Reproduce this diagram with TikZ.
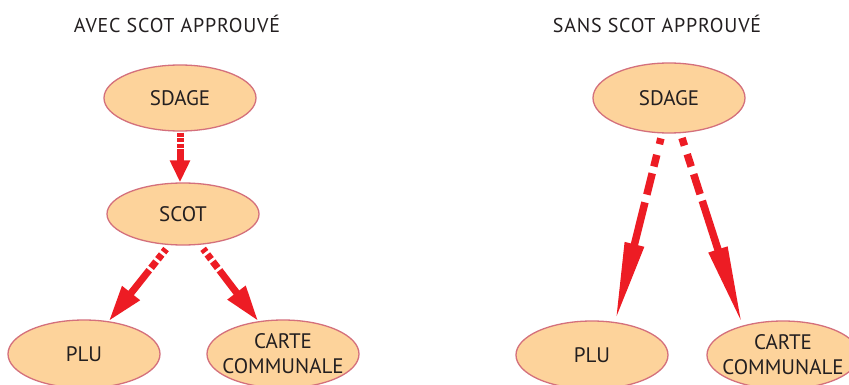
\documentclass[tikz,border=0pt]{standalone}
\usepackage{fontspec}
\setmainfont{PT Sans}
\usetikzlibrary{shapes.geometric,arrows.meta}
\definecolor{bubfill}{HTML}{FDD39B}
\definecolor{bubdraw}{HTML}{D4707C}
\definecolor{arrred}{HTML}{ED1C24}
\definecolor{txtcol}{HTML}{231F20}
\begin{document}
\begin{tikzpicture}[x=1pt,y=-1pt,
  bubble/.style={ellipse, draw=bubdraw, line width=1.3pt, fill=bubfill,
    minimum width=152pt, minimum height=68pt, inner sep=0pt},
  lbl/.style={text=txtcol, font=\fontsize{21}{25}\selectfont, align=center, inner sep=0pt},
  title/.style={text=txtcol, font=\fontsize{20}{22}\selectfont\addfontfeature{LetterSpace=4}, inner sep=0pt},
  arr/.style={draw=arrred, line width=7pt},
  shortarr/.style={arr, -{Triangle[length=22pt,width=19pt]}},
  midarr/.style={arr, -{Triangle[length=36pt,width=21pt]}},
  longarr/.style={arr, line width=7.5pt, -{Triangle[length=80pt,width=18pt]}}
]
\useasboundingbox (0,0) rectangle (849,385);
\clip (0,0) rectangle (849,385);
\fill[white] (0,0) rectangle (849,385);

% titles
\node[title] (t1) at (177,24) {AVEC SCOT APPROUVÉ};
\node[title] (t2) at (657,24) {SANS SCOT APPROUVÉ};

% left diagram
\node[bubble, minimum height=66pt] (s1) at (180,98) {};
\node[lbl] (s1t) at (s1) {SDAGE};
\node[bubble, minimum height=62pt] (c1) at (183,214) {};
\node[lbl] (c1t) at (c1) {SCOT};
\node[bubble] (p1) at (84,354) {};
\node[lbl] (p1t) at (p1) {PLU};
\node[bubble] (k1) at (283,354) {};
\node[lbl] (k1t) at ([yshift=0pt]k1) {CARTE\\COMMUNALE};

% right diagram
\node[bubble, minimum height=70pt] (s2) at (669,98) {};
\node[lbl] (s2t) at (s2) {SDAGE};
\node[bubble] (p2) at (592,355) {};
\node[lbl] (p2t) at (p2) {PLU};
\node[bubble] (k2) at (783,355) {};
\node[lbl] (k2t) at ([yshift=0pt]k2) {CARTE\\COMMUNALE};

% left arrows
\draw[shortarr, shorten <=1pt, dash pattern=on 4pt off 1.5pt on 4pt off 1.5pt on 4pt off 1.5pt on 60pt off 0pt]
  (s1.south) -- (s1.south |- c1.north);
\draw[midarr, shorten <=5pt, dash pattern=on 4pt off 3pt on 6pt off 3pt on 8pt off 3pt on 100pt off 0pt]
  (c1.246) -- (p1.53);
\draw[midarr, shorten <=5pt, dash pattern=on 4pt off 3pt on 6pt off 3pt on 8pt off 3pt on 100pt off 0pt]
  (c1.299) -- (k1.127);

% right arrows
\draw[longarr, shorten <=5pt, dash pattern=on 6pt off 11pt on 12pt off 7pt on 22pt off 8pt on 200pt off 0pt]
  (s2.259) -- (p2.55);
\draw[longarr, shorten <=5pt, dash pattern=on 8pt off 9pt on 13pt off 8pt on 21pt off 7pt on 200pt off 0pt]
  (s2.288) -- (k2.144);
\end{tikzpicture}
\end{document}
